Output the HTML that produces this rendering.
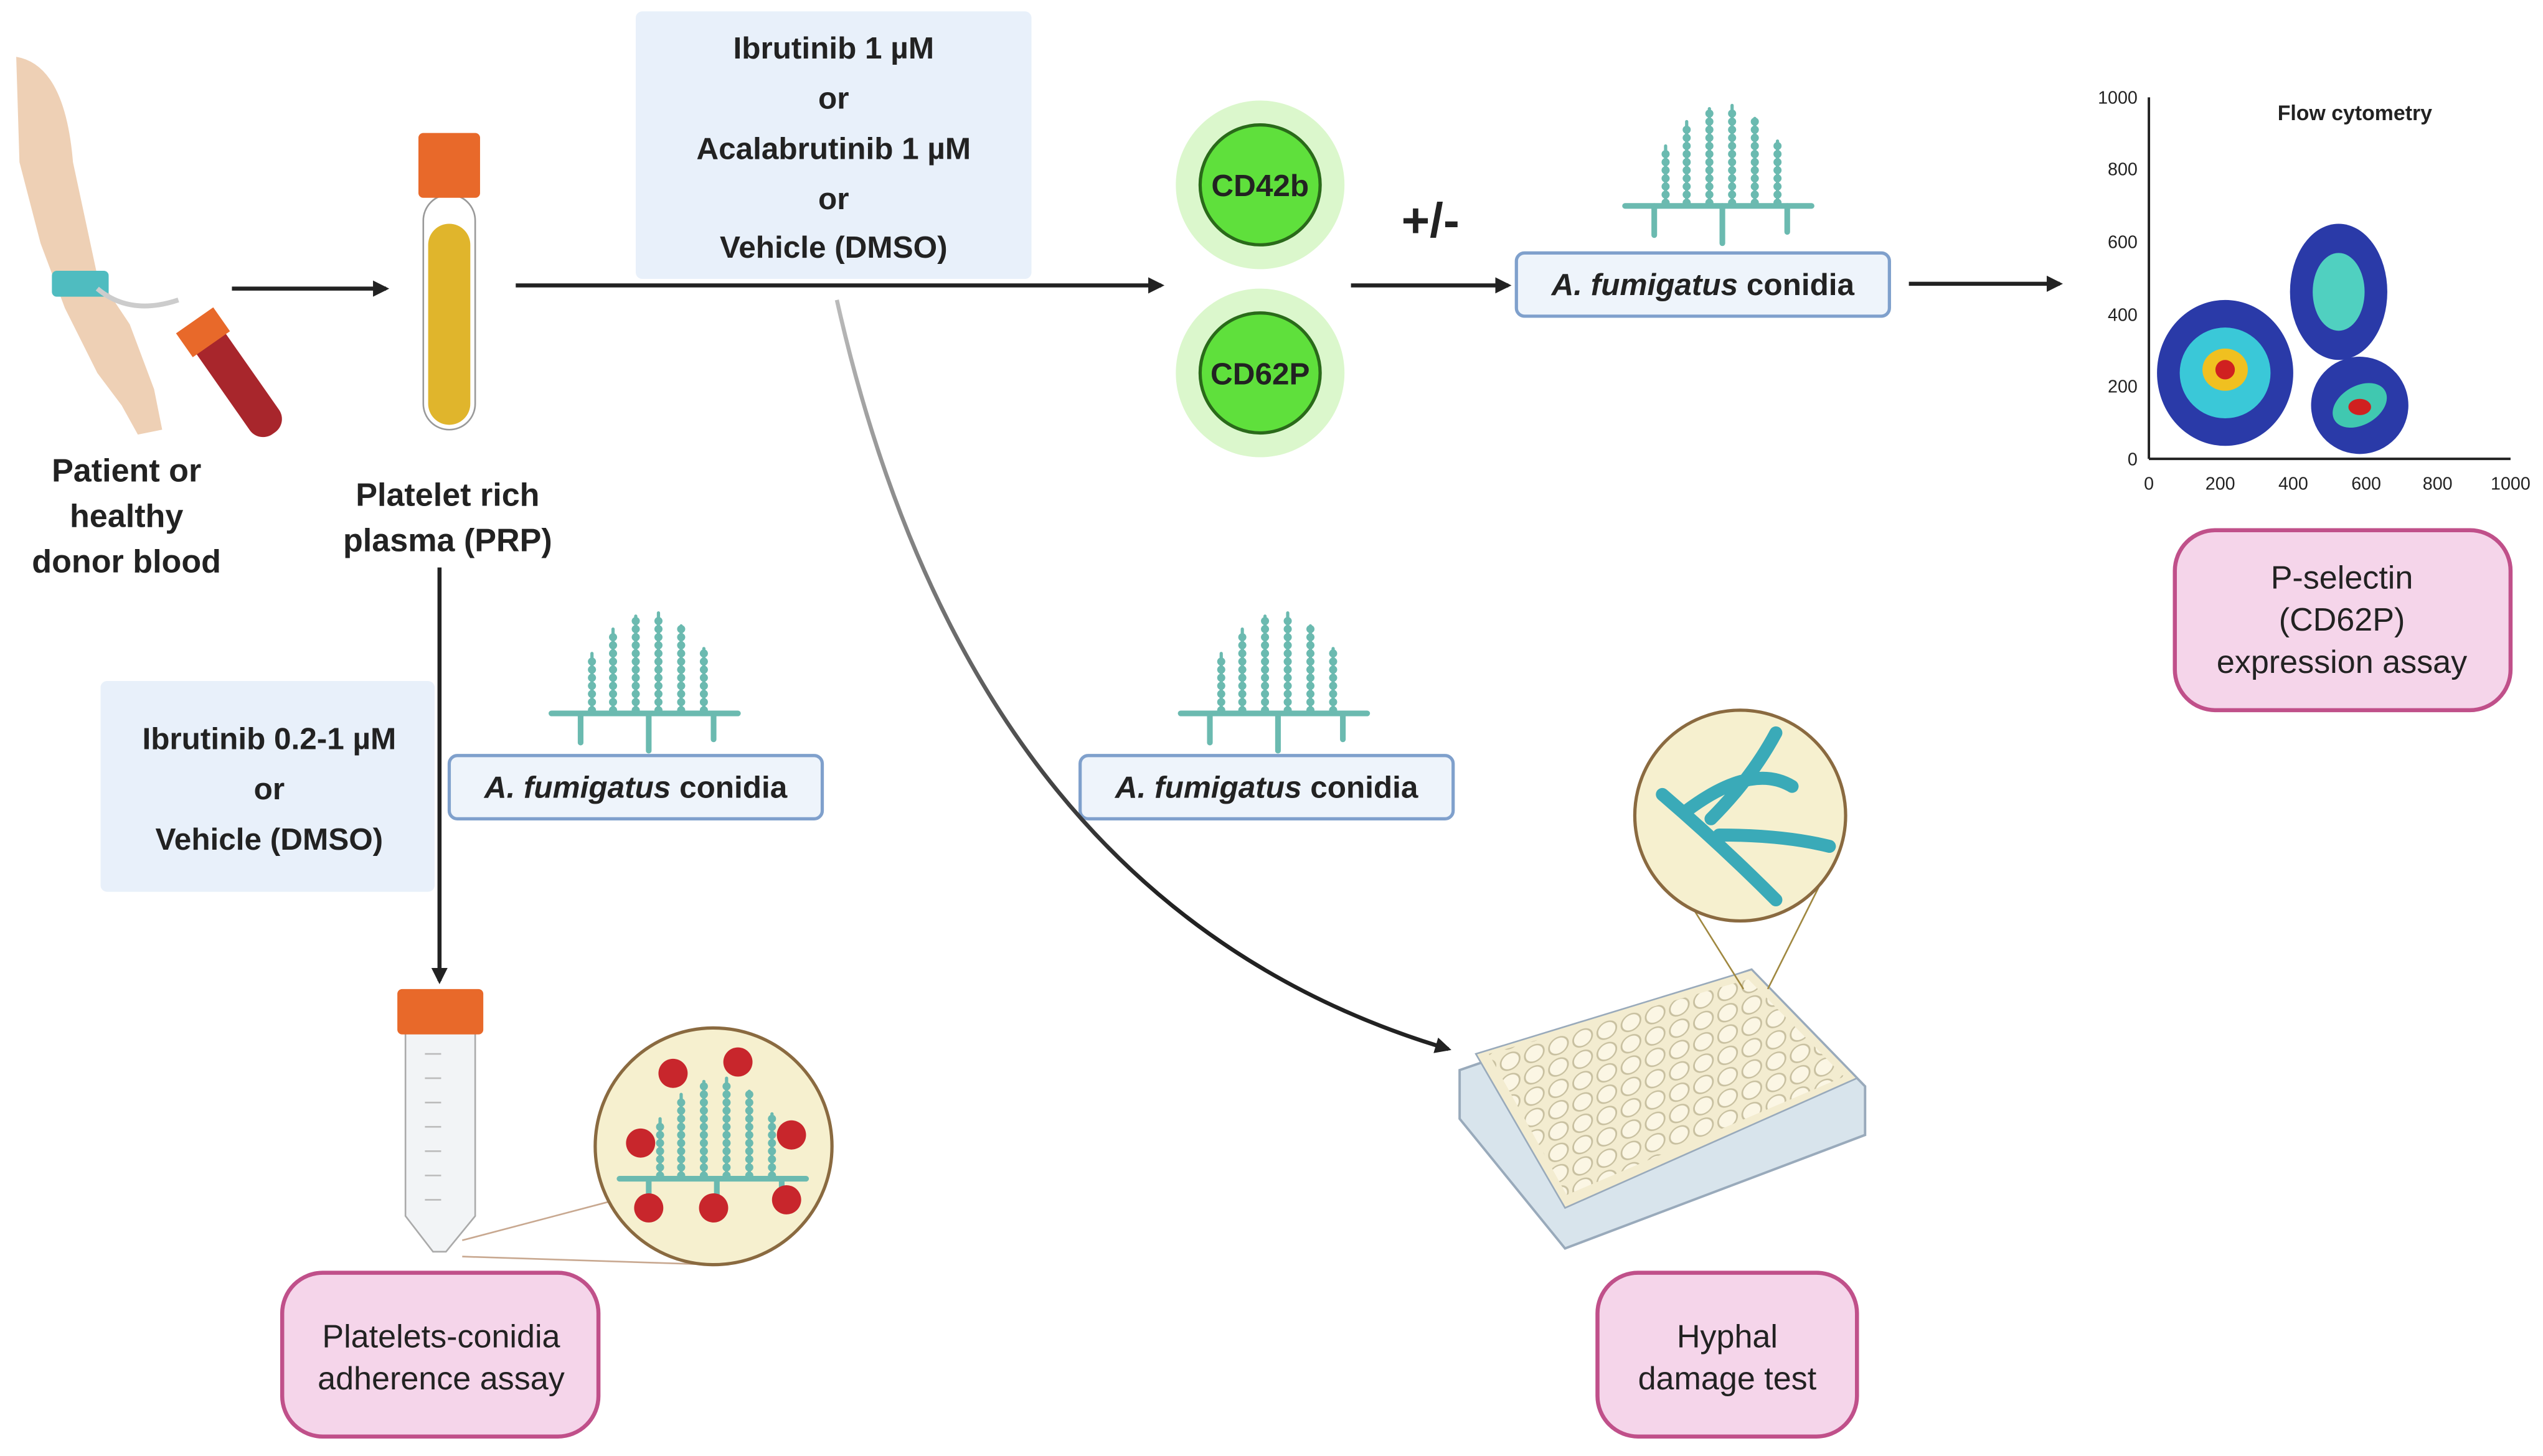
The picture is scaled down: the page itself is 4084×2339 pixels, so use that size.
<!DOCTYPE html>
<html><head><meta charset="utf-8"><style>
html,body{margin:0;padding:0;background:#fff;width:4084px;height:2339px;overflow:hidden}
svg{display:block}
text{font-family:"Liberation Sans",sans-serif}
.b{font-weight:bold;fill:#222}
</style></head><body>
<svg width="4084" height="2339" viewBox="0 0 1568 898" xmlns="http://www.w3.org/2000/svg">
<defs>
<marker id="ah" markerWidth="10" markerHeight="10" refX="8" refY="5" orient="auto" markerUnits="userSpaceOnUse"><path d="M0,0 L10,5 L0,10 z" fill="#222"/></marker>
<linearGradient id="cg" gradientUnits="userSpaceOnUse" x1="516" y1="185" x2="700" y2="560"><stop offset="0" stop-color="#bbb"/><stop offset="1" stop-color="#222"/></linearGradient>
<g id="fung" fill="none" stroke="#6bbab0" stroke-linecap="round">
<path d="M0,72 H115" stroke-width="3.5"/>
<path d="M18,72 V90 M60,72 V95 M100,72 V88" stroke-width="3.5"/>
<path d="M25,70 V35 M38,70 V20 M52,70 V12 M66,70 V10 M80,70 V18 M94,70 V32" stroke-width="5" stroke-dasharray="0 5"/>
<path d="M25,72 V35 M38,72 V20 M52,72 V12 M66,72 V10 M80,72 V18 M94,72 V32" stroke-width="2"/>
</g>
<pattern id="wells" patternUnits="userSpaceOnUse" width="14" height="14" patternTransform="skewX(-20) rotate(-20)"><circle cx="7" cy="7" r="5.5" fill="#fbf6e4" stroke="#c8c0a0" stroke-width="1"/></pattern>
</defs>
<!-- arm -->
<path d="M10,35 Q40,40 45,100 L60,170 L80,200 L95,240 L100,265 L85,268 L75,250 L60,230 L40,190 L25,150 L12,100 Z" fill="#eed0b5"/>
<rect x="32" y="167" width="35" height="16" fill="#4fbcc0" rx="3"/>
<path d="M60,178 Q80,195 110,185" stroke="#ccc" stroke-width="3" fill="none"/>
<g transform="rotate(-35 145 235)"><rect x="135" y="195" width="22" height="80" rx="10" fill="#a8262c"/><rect x="132" y="190" width="28" height="18" fill="#e8692a"/></g>
<text class="b" font-size="20" text-anchor="middle"><tspan x="78" y="297">Patient or</tspan><tspan x="78" y="325">healthy</tspan><tspan x="78" y="353">donor blood</tspan></text>
<line x1="143" y1="178" x2="238" y2="178" stroke="#222" stroke-width="2.5" marker-end="url(#ah)"/>
<!-- PRP tube -->
<rect x="261" y="120" width="32" height="145" rx="16" fill="#fff" stroke="#999" stroke-width="1"/>
<rect x="264" y="138" width="26" height="124" rx="13" fill="#e0b52c"/>
<rect x="258" y="82" width="38" height="40" rx="3" fill="#e8692a"/>
<text class="b" font-size="20" text-anchor="middle"><tspan x="276" y="312">Platelet rich</tspan><tspan x="276" y="340">plasma (PRP)</tspan></text>
<!-- top box -->
<rect x="392" y="7" width="244" height="165" rx="4" fill="#e8f0fa"/>
<text class="b" font-size="19" text-anchor="middle"><tspan x="514" y="36">Ibrutinib 1 µM</tspan><tspan x="514" y="67">or</tspan><tspan x="514" y="98">Acalabrutinib 1 µM</tspan><tspan x="514" y="129">or</tspan><tspan x="514" y="159">Vehicle (DMSO)</tspan></text>
<line x1="318" y1="176" x2="716" y2="176" stroke="#222" stroke-width="2.5" marker-end="url(#ah)"/>
<!-- CD circles -->
<circle cx="777" cy="114" r="52" fill="#dbf7cc"/><circle cx="777" cy="114" r="37" fill="#5fe03c" stroke="#2a6a1a" stroke-width="2"/>
<text class="b" font-size="19" x="777" y="121" text-anchor="middle">CD42b</text>
<circle cx="777" cy="230" r="52" fill="#dbf7cc"/><circle cx="777" cy="230" r="37" fill="#5fe03c" stroke="#2a6a1a" stroke-width="2"/>
<text class="b" font-size="19" x="777" y="237" text-anchor="middle">CD62P</text>
<text class="b" font-size="30" x="882" y="146" text-anchor="middle">+/-</text>
<line x1="833" y1="176" x2="930" y2="176" stroke="#222" stroke-width="2.5" marker-end="url(#ah)"/>
<use href="#fung" x="1002" y="55"/>
<rect x="935" y="156" width="230" height="39" rx="5" fill="#eef4fb" stroke="#7fa0cc" stroke-width="2"/>
<text class="b" font-size="19" x="1050" y="182" text-anchor="middle"><tspan font-style="italic">A. fumigatus</tspan> conidia</text>
<line x1="1177" y1="175" x2="1270" y2="175" stroke="#222" stroke-width="2.5" marker-end="url(#ah)"/>
<!-- plot -->
<line x1="1325" y1="60" x2="1325" y2="283" stroke="#222" stroke-width="1.5"/>
<line x1="1325" y1="283" x2="1548" y2="283" stroke="#222" stroke-width="1.5"/>
<g font-size="11" fill="#222" text-anchor="end"><text x="1318" y="64">1000</text><text x="1318" y="108">800</text><text x="1318" y="153">600</text><text x="1318" y="198">400</text><text x="1318" y="242">200</text><text x="1318" y="287">0</text></g>
<g font-size="11" fill="#222" text-anchor="middle"><text x="1325" y="302">0</text><text x="1369" y="302">200</text><text x="1414" y="302">400</text><text x="1459" y="302">600</text><text x="1503" y="302">800</text><text x="1548" y="302">1000</text></g>
<text class="b" font-size="13" x="1452" y="74" text-anchor="middle">Flow cytometry</text>
<ellipse cx="1372" cy="230" rx="42" ry="45" fill="#2a3aa8"/><ellipse cx="1372" cy="230" rx="28" ry="28" fill="#3ac8d8"/><ellipse cx="1372" cy="228" rx="14" ry="13" fill="#f0c020"/><ellipse cx="1372" cy="228" rx="6" ry="6" fill="#d02020"/>
<ellipse cx="1442" cy="180" rx="30" ry="42" fill="#2a3aa8"/><ellipse cx="1442" cy="180" rx="16" ry="24" fill="#50d0c0"/>
<ellipse cx="1455" cy="250" rx="30" ry="30" fill="#2a3aa8" transform="rotate(-30 1455 250)"/><ellipse cx="1455" cy="250" rx="18" ry="12" fill="#40c8b0" transform="rotate(-30 1455 250)"/><ellipse cx="1455" cy="251" rx="7" ry="5" fill="#d02020"/>
<rect x="1341" y="327" width="207" height="111" rx="25" fill="#f5d5ea" stroke="#c0508a" stroke-width="2.5"/>
<text font-size="20" fill="#222" text-anchor="middle"><tspan x="1444" y="363">P-selectin</tspan><tspan x="1444" y="389">(CD62P)</tspan><tspan x="1444" y="415">expression assay</tspan></text>
<!-- vertical -->
<rect x="62" y="420" width="206" height="130" rx="4" fill="#e8f0fa"/>
<text class="b" font-size="19" text-anchor="middle"><tspan x="166" y="462">Ibrutinib 0.2-1 µM</tspan><tspan x="166" y="493">or</tspan><tspan x="166" y="524">Vehicle (DMSO)</tspan></text>
<line x1="271" y1="350" x2="271" y2="605" stroke="#222" stroke-width="2.5" marker-end="url(#ah)"/>
<use href="#fung" x="340" y="368"/>
<rect x="277" y="466" width="230" height="39" rx="5" fill="#eef4fb" stroke="#7fa0cc" stroke-width="2"/>
<text class="b" font-size="19" x="392" y="492" text-anchor="middle"><tspan font-style="italic">A. fumigatus</tspan> conidia</text>
<use href="#fung" x="728" y="368"/>
<rect x="666" y="466" width="230" height="39" rx="5" fill="#eef4fb" stroke="#7fa0cc" stroke-width="2"/>
<text class="b" font-size="19" x="781" y="492" text-anchor="middle"><tspan font-style="italic">A. fumigatus</tspan> conidia</text>
<path d="M516,185 Q600,560 893,647" fill="none" stroke="url(#cg)" stroke-width="2.5" marker-end="url(#ah)"/>
<!-- falcon tube -->
<path d="M250,635 H293 V750 L275,772 H267 L250,750 Z" fill="#f2f4f6" stroke="#aaa"/>
<g stroke="#bbb" stroke-width="1"><path d="M262,650 H272 M262,665 H272 M262,680 H272 M262,695 H272 M262,710 H272 M262,725 H272 M262,740 H272"/></g>
<rect x="245" y="610" width="53" height="28" rx="3" fill="#e8692a"/>
<line x1="285" y1="765" x2="380" y2="740" stroke="#c8a890"/><line x1="285" y1="775" x2="440" y2="780" stroke="#c8a890"/>
<circle cx="440" cy="707" r="73" fill="#f6f0cf" stroke="#8a6a40" stroke-width="2"/>
<use href="#fung" x="382" y="655"/>
<g fill="#c8262c"><circle cx="395" cy="705" r="9"/><circle cx="415" cy="662" r="9"/><circle cx="455" cy="655" r="9"/><circle cx="488" cy="700" r="9"/><circle cx="485" cy="740" r="9"/><circle cx="440" cy="745" r="9"/><circle cx="400" cy="745" r="9"/></g>
<rect x="174" y="785" width="195" height="101" rx="25" fill="#f5d5ea" stroke="#c0508a" stroke-width="2.5"/>
<text font-size="20" fill="#222" text-anchor="middle"><tspan x="272" y="831">Platelets-conidia</tspan><tspan x="272" y="857">adherence assay</tspan></text>
<!-- well plate -->
<path d="M900,660 L1080,598 L1150,670 L1150,700 L965,770 L900,690 Z" fill="#d8e4ec" stroke="#9ab" stroke-width="1.5"/>
<path d="M910,650 L1080,598 L1145,665 L965,745 Z" fill="#f3ecd0" stroke="#9ab"/>
<path d="M918,650 L1078,604 L1137,664 L966,737 Z" fill="url(#wells)"/>
<line x1="1045" y1="562" x2="1075" y2="610" stroke="#a08840"/><line x1="1130" y1="530" x2="1090" y2="610" stroke="#a08840"/>
<circle cx="1073" cy="503" r="65" fill="#f6f0cf" stroke="#8a6a40" stroke-width="2"/>
<path d="M1025,490 Q1060,520 1095,555 M1040,500 Q1080,470 1105,485 M1060,515 Q1100,515 1128,522 M1055,505 Q1080,480 1095,452" stroke="#3aaab8" stroke-width="8" fill="none" stroke-linecap="round"/>
<rect x="985" y="785" width="160" height="101" rx="25" fill="#f5d5ea" stroke="#c0508a" stroke-width="2.5"/>
<text font-size="20" fill="#222" text-anchor="middle"><tspan x="1065" y="831">Hyphal</tspan><tspan x="1065" y="857">damage test</tspan></text>
</svg>
</body></html>
